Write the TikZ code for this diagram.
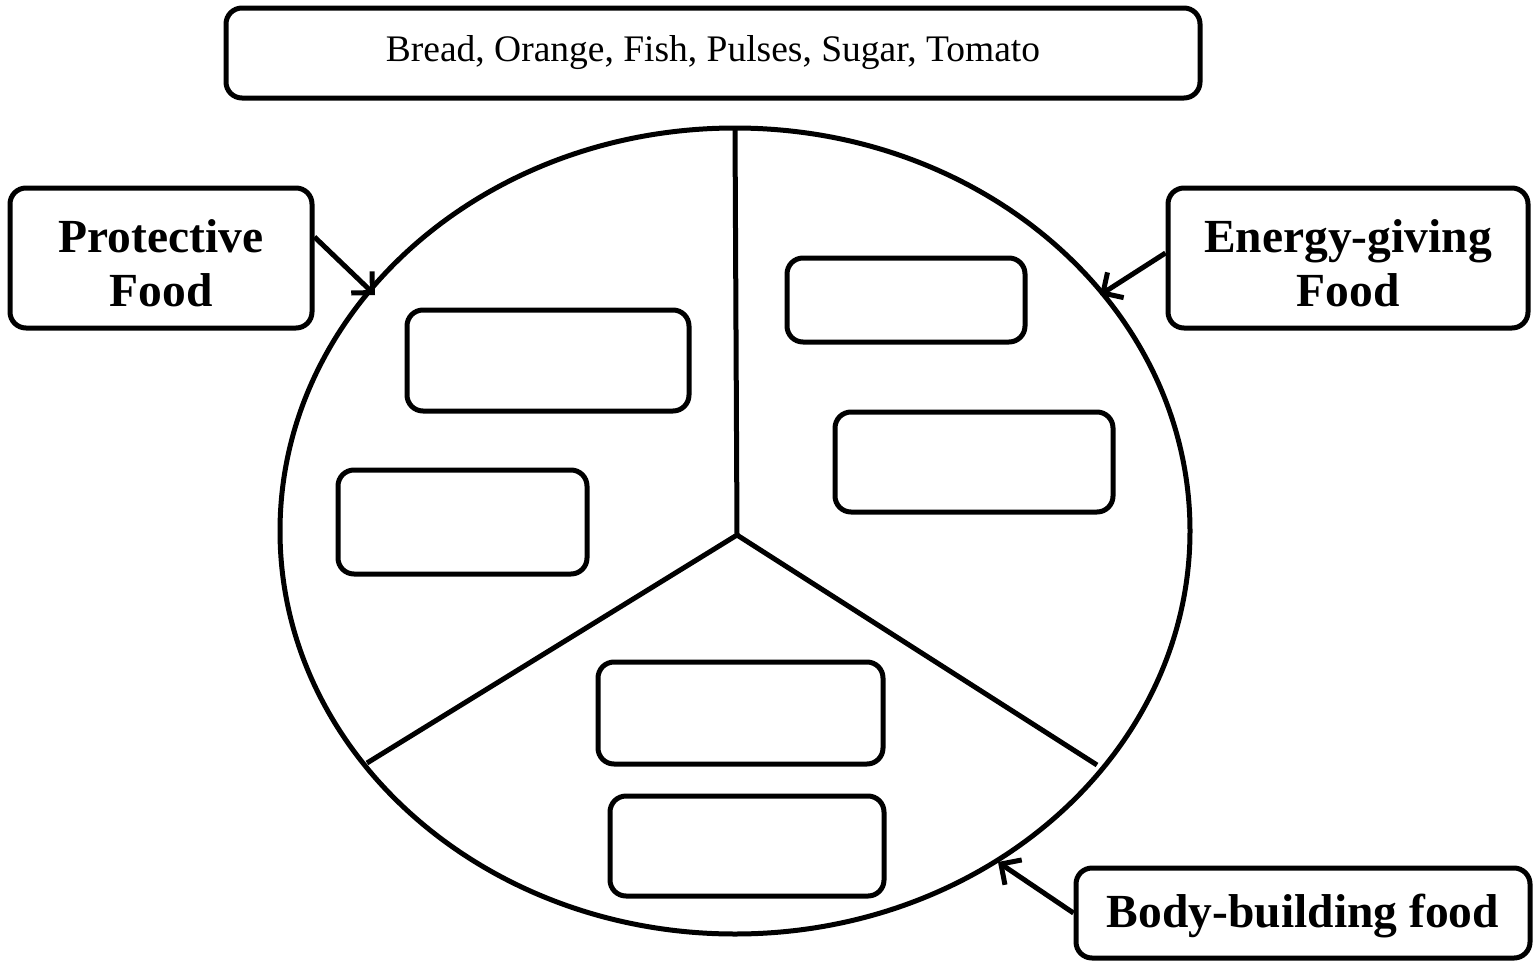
\documentclass[tikz,border=0pt]{standalone}
\usepackage{fontspec}
\setmainfont{Liberation Serif}
\usetikzlibrary{shapes.geometric,arrows.meta}
\begin{document}
\begin{tikzpicture}[x=1pt,y=-1pt,
  box/.style={draw=black, line width=5pt, rounded corners=16pt, inner sep=0pt, fill=white},
  labeltext/.style={font=\fontsize{47.5}{54}\selectfont\bfseries, align=center, inner sep=0pt},
  arr/.style={line width=5pt, -{Straight Barb[length=15pt,width=30pt,line width=5pt]}},
  divline/.style={line width=5pt}]
\useasboundingbox (0,0) rectangle (1539,964);
\fill[white] (0,0) rectangle (1539,964);
% top list box
\node[box, minimum width=974pt, minimum height=90pt, font=\fontsize{37.5}{44}\selectfont] (list) at (713,53) {Bread, Orange, Fish, Pulses, Sugar, Tomato};
% plate
\node[draw=black, line width=5pt, ellipse, minimum width=910pt, minimum height=806pt, inner sep=0pt] (plate) at (735,531) {};
\coordinate (ctr) at (737,535);
\coordinate (ptop) at (735,128);
\coordinate (pleft) at (367,763);
\coordinate (pright) at (1097,765);
\draw[divline] (ctr) -- (ptop);
\draw[divline] (ctr) -- (pleft);
\draw[divline] (ctr) -- (pright);
% inner boxes
\node[box, minimum width=282pt, minimum height=101pt] (b1) at (548,360.5) {};
\node[box, minimum width=249pt, minimum height=104pt] (b2) at (462.5,522) {};
\node[box, minimum width=238pt, minimum height=84pt] (b3) at (906,300) {};
\node[box, minimum width=278pt, minimum height=100pt] (b4) at (974,462) {};
\node[box, minimum width=285pt, minimum height=102pt] (b5) at (740.5,713) {};
\node[box, minimum width=274pt, minimum height=100pt] (b6) at (747,846) {};
% category labels
\node[box, minimum width=302pt, minimum height=140pt] (prot) at (161,258) {};
\node[labeltext] (prottxt) at ([yshift=-5pt]prot.center) {Protective\\Food};
\node[box, minimum width=360pt, minimum height=140pt] (energy) at (1348,258) {};
\node[labeltext] (energytxt) at ([yshift=-5pt]energy.center) {Energy-giving\\Food};
\node[box, minimum width=454pt, minimum height=90pt] (body) at (1303,913) {};
\node[labeltext] (bodytxt) at ([yshift=-3pt]body.center) {Body-building food};
% arrows
\coordinate (pa) at (375,295);
\coordinate (ea) at (1100,295);
\coordinate (ba) at (998,862);
\draw[arr] ([yshift=21pt]prot.east) -- (pa);
\draw[arr] ([yshift=5pt]energy.west) -- (ea);
\draw[arr] (body.west) -- (ba);
\end{tikzpicture}
\end{document}
